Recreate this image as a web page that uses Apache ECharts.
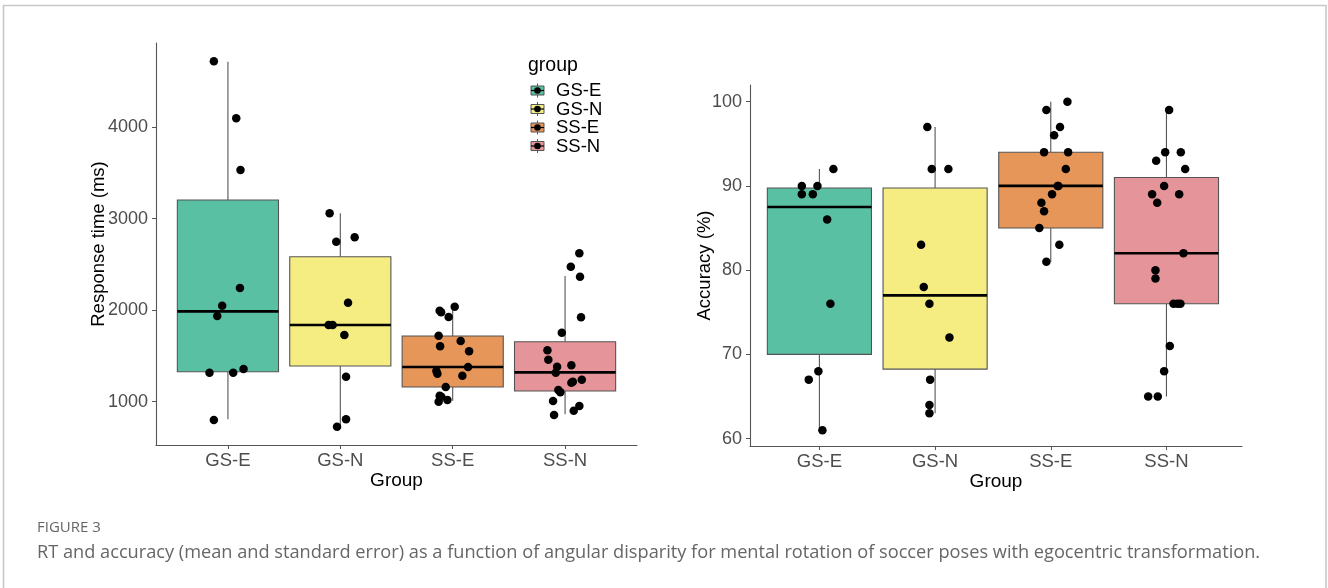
<!DOCTYPE html>
<html>
<head>
<meta charset="utf-8">
<script src="https://cdn.jsdelivr.net/npm/echarts@6/dist/echarts.min.js"></script>
<style>html,body{margin:0;padding:0;background:#fff;}#c{width:1328px;height:588px;}</style>
</head>
<body>
<div id="c"></div>
<script>
// ---------- data ----------
const categories = ['GS-E', 'GS-N', 'SS-E', 'SS-N'];
const rtTicks = [1000, 2000, 3000, 4000];
const accTicks = [60, 70, 80, 90, 100];

// box stats: [lower whisker, Q1, median, Q3, upper whisker]
const rtBoxGSE = [808, 1328, 1988, 3205, 4717];
const rtBoxGSN = [727, 1390, 1838, 2585, 3060];
const rtBoxSSE = [1010, 1161, 1379, 1718, 2039];
const rtBoxSSN = [862, 1117, 1321, 1656, 2374];

const accBoxGSE = [61, 70, 87.5, 89.75, 92];
const accBoxGSN = [63, 68.25, 77, 89.75, 97];
const accBoxSSE = [81, 85, 90, 94, 100];
const accBoxSSN = [65, 76, 82, 91, 99];

// individual observations (response time, ms)
const rtGSE = [4721, 4098, 3533, 2243, 2050, 1937, 1317, 1317, 1357, 800];
const rtGSN = [3060, 2749, 2797, 2082, 1838, 1838, 1729, 1273, 808, 727];
const rtSSE = [1995, 1977, 1926, 2039, 1722, 1664, 1606, 1551, 1379, 1336, 1306, 1284, 1161, 1066, 1055, 1019, 1000];
const rtSSN = [2622, 2476, 2367, 1923, 1755, 1562, 1459, 1383, 1398, 1317, 1219, 1241, 1208, 1128, 1103, 1008, 953, 902, 855];

// horizontal jitter (category units) as drawn
const rtGSEJitter = [-0.125, 0.074, 0.112, 0.107, -0.051, -0.095, -0.164, 0.047, 0.139, -0.125];
const rtGSNJitter = [-0.095, -0.036, 0.128, 0.069, -0.104, -0.068, 0.036, 0.051, 0.051, -0.029];
const rtSSEJitter = [-0.116, -0.103, -0.036, 0.018, -0.125, 0.071, -0.112, 0.146, 0.137, -0.145, -0.136, 0.086, -0.062, -0.116, -0.101, -0.047, -0.125];
const rtSSNJitter = [0.127, 0.051, 0.133, 0.142, -0.029, -0.157, -0.149, -0.071, 0.056, -0.083, 0.069, 0.149, 0.056, -0.06, -0.042, -0.107, 0.127, 0.077, -0.098];

// individual observations (accuracy, %)
const accGSE = [92, 90, 90, 89, 89, 86, 76, 68, 67, 61];
const accGSN = [97, 92, 92, 83, 78, 76, 72, 67, 64, 63];
const accSSE = [100, 99, 97, 96, 94, 94, 92, 90, 90, 89, 88, 87, 85, 83, 81];
const accSSN = [99, 94, 94, 93, 92, 90, 89, 89, 88, 82, 80, 79, 76, 76, 76, 71, 68, 65, 65];

const accGSEJitter = [0.121, -0.152, -0.017, -0.152, -0.057, 0.067, 0.095, -0.009, -0.092, 0.026];
const accGSNJitter = [-0.067, -0.029, 0.115, -0.121, -0.098, -0.049, 0.124, -0.043, -0.049, -0.049];
const accSSEJitter = [0.144, -0.038, 0.08, 0.029, -0.058, 0.15, 0.13, 0.066, 0.059, 0.011, -0.081, -0.058, -0.099, 0.074, -0.038];
const accSSNJitter = [0.023, -0.011, 0.124, -0.089, 0.162, -0.02, -0.124, 0.11, -0.08, 0.147, -0.095, -0.095, 0.061, 0.095, 0.121, 0.029, -0.02, -0.158, -0.075];

// ---------- styling ----------
const palette = ['#5ac0a3', '#f5ec82', '#e59658', '#e5949a'];
const FONT = "'Liberation Sans', Arial, sans-serif";
const CAP_FONT = "'Open Sans', sans-serif";
const AXIS_GREY = '#555555';
const LABEL_GREY = '#4d4d4d';

const rtBoxes = [rtBoxGSE, rtBoxGSN, rtBoxSSE, rtBoxSSN];
const accBoxes = [accBoxGSE, accBoxGSN, accBoxSSE, accBoxSSN];
const rtPoints = [rtGSE, rtGSN, rtSSE, rtSSN];
const rtJitters = [rtGSEJitter, rtGSNJitter, rtSSEJitter, rtSSNJitter];
const accPoints = [accGSE, accGSN, accSSE, accSSN];
const accJitters = [accGSEJitter, accGSNJitter, accSSEJitter, accSSNJitter];

function boxData(boxes) {
  return boxes.map((b, i) => [i].concat(b));
}
function pointData(points, jitters) {
  const out = [];
  points.forEach((arr, i) => arr.forEach((v, k) => out.push([i + jitters[i][k], v])));
  return out;
}

function renderBox(params, api) {
  const x = api.value(0);
  const low = api.coord([x, api.value(1)]);
  const q1 = api.coord([x, api.value(2)]);
  const med = api.coord([x, api.value(3)]);
  const q3 = api.coord([x, api.value(4)]);
  const high = api.coord([x, api.value(5)]);
  const w = api.size([0.9, 0])[0];
  const color = palette[params.dataIndex];
  return {
    type: 'group',
    children: [
      { type: 'line', shape: { x1: high[0], y1: high[1], x2: q3[0], y2: q3[1] }, style: { stroke: AXIS_GREY, lineWidth: 1.1 } },
      { type: 'line', shape: { x1: q1[0], y1: q1[1], x2: low[0], y2: low[1] }, style: { stroke: AXIS_GREY, lineWidth: 1.1 } },
      { type: 'rect', shape: { x: q3[0] - w / 2, y: q3[1], width: w, height: q1[1] - q3[1] }, style: { fill: color, stroke: AXIS_GREY, lineWidth: 1.1 } },
      { type: 'line', shape: { x1: med[0] - w / 2, y1: med[1], x2: med[0] + w / 2, y2: med[1] }, style: { stroke: '#000', lineWidth: 2.6 } }
    ]
  };
}

function xAxisCfg(gridIndex, min, max, gap) {
  return {
    type: 'value', gridIndex, min, max,
    name: 'Group', nameLocation: 'middle', nameGap: gap, nameMoveOverlap: false,
    nameTextStyle: { fontFamily: FONT, fontSize: 19, color: '#000' },
    splitLine: { show: false },
    axisLine: { show: true, onZero: false, lineStyle: { color: AXIS_GREY, width: 1.1 } },
    axisTick: { show: true, length: 4, customValues: [0, 1, 2, 3], lineStyle: { color: AXIS_GREY } },
    axisLabel: { customValues: [0, 1, 2, 3], formatter: v => categories[Math.round(v)], fontFamily: FONT, fontSize: 18.5, color: LABEL_GREY, margin: 6 }
  };
}
function yAxisCfg(gridIndex, min, max, ticks, name, gap) {
  return {
    type: 'value', gridIndex, min, max,
    name, nameLocation: 'middle', nameGap: gap, nameMoveOverlap: false,
    nameTextStyle: { fontFamily: FONT, fontSize: 18.5, color: '#000' },
    splitLine: { show: false },
    axisLine: { show: true, onZero: false, lineStyle: { color: AXIS_GREY, width: 1.1 } },
    axisTick: { show: true, length: 4, customValues: ticks, lineStyle: { color: AXIS_GREY } },
    axisLabel: { customValues: ticks, formatter: v => String(v), fontFamily: FONT, fontSize: 18, color: LABEL_GREY, margin: 8 }
  };
}

// legend drawn as graphic (ggplot style keys)
const legendGraphics = [];
legendGraphics.push({ type: 'text', left: 528, top: 56, style: { text: 'group', fontFamily: FONT, fontSize: 19.5, fill: '#000' } });
const legendRowY = [90.5, 109, 127.5, 146];
categories.forEach((c, i) => {
  const cy = legendRowY[i];
  legendGraphics.push({ type: 'line', shape: { x1: 537.5, y1: cy - 7, x2: 537.5, y2: cy + 7 }, style: { stroke: AXIS_GREY, lineWidth: 1 } });
  legendGraphics.push({ type: 'rect', shape: { x: 531, y: cy - 4.5, width: 13, height: 9 }, style: { fill: palette[i], stroke: AXIS_GREY, lineWidth: 1 } });
  legendGraphics.push({ type: 'line', shape: { x1: 531, y1: cy, x2: 544, y2: cy }, style: { stroke: '#000', lineWidth: 1.2 } });
  legendGraphics.push({ type: 'circle', shape: { cx: 537.5, cy: cy, r: 3.3 }, style: { fill: '#000' } });
  legendGraphics.push({ type: 'text', left: 556, top: cy - 9, style: { text: c, fontFamily: FONT, fontSize: 18.5, fill: '#000' } });
});

const chart = echarts.init(document.getElementById('c'), null, { renderer: 'canvas' });
chart.setOption({
  animation: false,
  backgroundColor: '#fff',
  grid: [
    { left: 156, top: 43, width: 481, height: 402 },
    { left: 750, top: 85, width: 492, height: 361 }
  ],
  xAxis: [xAxisCfg(0, -0.64, 3.64, 26), xAxisCfg(1, -0.6, 3.653, 26)],
  yAxis: [
    yAxisCfg(0, 527, 4921, rtTicks, 'Response time (ms)', 48),
    yAxisCfg(1, 59.12, 101.98, accTicks, 'Accuracy (%)', 36)
  ],
  series: [
    { type: 'custom', xAxisIndex: 0, yAxisIndex: 0, renderItem: renderBox, data: boxData(rtBoxes), encode: { x: 0, y: [1, 2, 3, 4, 5] }, z: 2, silent: true },
    { type: 'scatter', xAxisIndex: 0, yAxisIndex: 0, data: pointData(rtPoints, rtJitters), symbolSize: 8.5, itemStyle: { color: '#000', opacity: 1 }, z: 5, silent: true },
    { type: 'custom', xAxisIndex: 1, yAxisIndex: 1, renderItem: renderBox, data: boxData(accBoxes), encode: { x: 0, y: [1, 2, 3, 4, 5] }, z: 2, silent: true },
    { type: 'scatter', xAxisIndex: 1, yAxisIndex: 1, data: pointData(accPoints, accJitters), symbolSize: 8.5, itemStyle: { color: '#000', opacity: 1 }, z: 5, silent: true }
  ],
  graphic: [
    { type: 'rect', shape: { x: 3.5, y: 5.5, width: 1322.5, height: 640 }, style: { fill: 'none', stroke: '#c8c8c8', lineWidth: 1.6 }, silent: true },
    { type: 'text', left: 37, top: 520, style: { text: 'FIGURE 3', fontFamily: CAP_FONT, fontSize: 15, fill: '#666' } },
    { type: 'text', left: 37, top: 544, style: { text: 'RT and accuracy (mean and standard error) as a function of angular disparity for mental rotation of soccer poses with egocentric transformation.', fontFamily: CAP_FONT, fontSize: 18.2, fill: '#666' } }
  ].concat(legendGraphics)
});
</script>
</body>
</html>
